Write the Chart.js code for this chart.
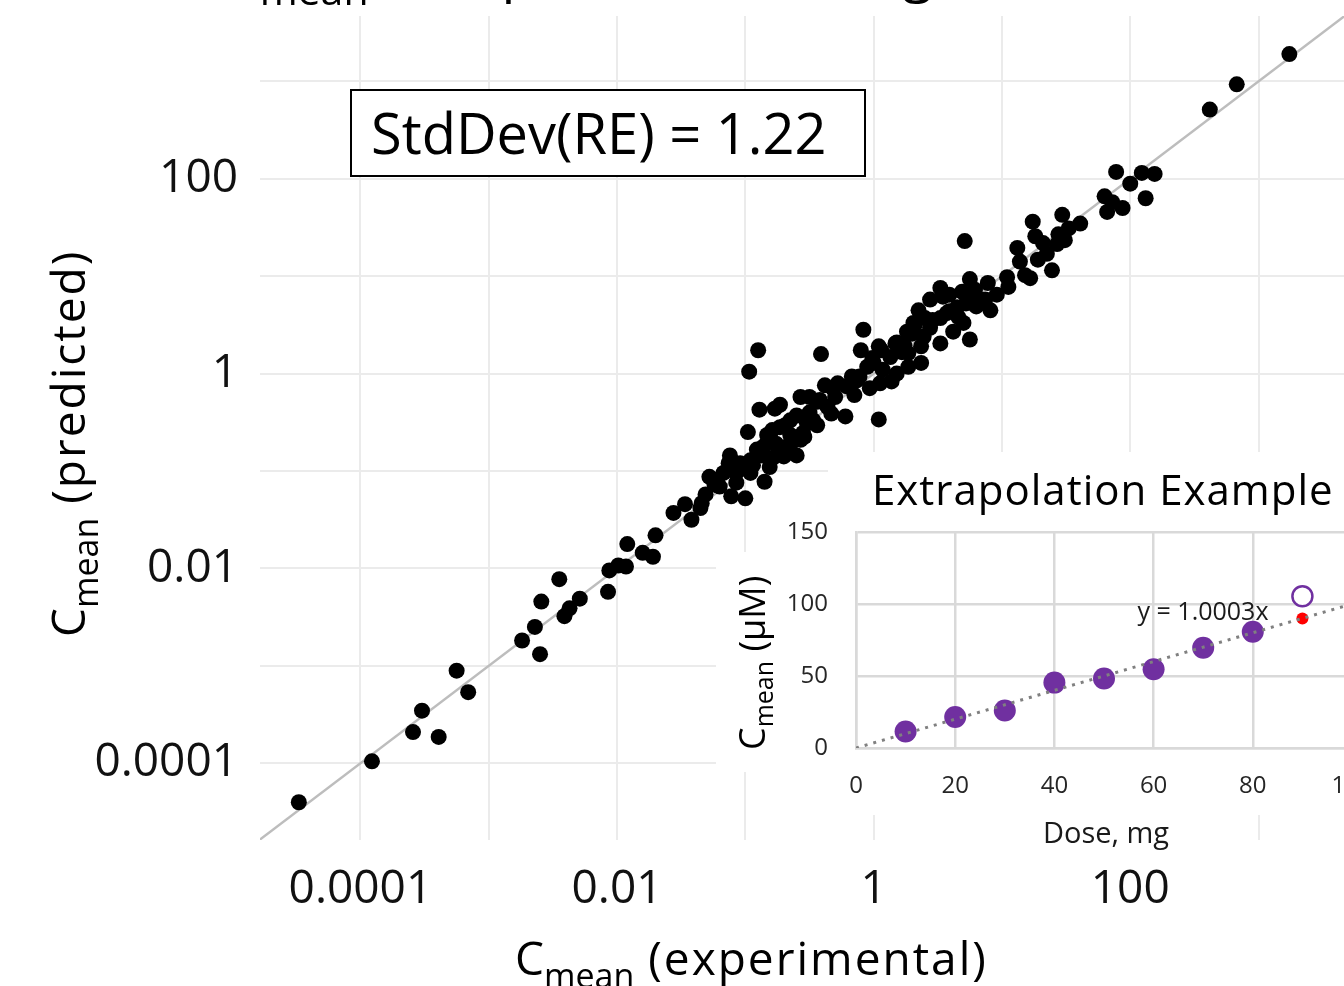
<!DOCTYPE html>
<html>
<head>
<meta charset="utf-8">
<script src="https://cdn.jsdelivr.net/npm/chart.js@4.4.1/dist/chart.umd.min.js"></script>
<style>
  html, body { margin: 0; padding: 0; background: #fff; overflow: hidden; }
  #wrap { position: relative; width: 1344px; height: 986px; overflow: hidden; }
  #main { position: absolute; left: 0; top: 0; }
  #inset { position: absolute; left: 716px; top: 452px; }
</style>
</head>
<body>
<div id="wrap">
  <canvas id="main" width="1344" height="986"></canvas>
  <canvas id="inset" width="680" height="400"></canvas>
</div>
<script>
// ---- main plot data (log10 of Cmean) ----
const log10Experimental = [
  -4.48, -3.91, -3.59, -3.39, -3.52, -3.16, -3.25, -2.74, -2.64, -2.60,
  -2.59, -2.45, -2.41, -2.37, -2.29, -2.07, -2.06, -1.99, -1.93, -1.92,
  -1.80, -1.72, -1.70, -1.56, -1.47, -1.42, -1.35, -1.31, -1.24, -0.90,
  -0.41, -0.97, -0.30, -0.38, -0.57, -0.44, -0.33, -0.73, -0.77, -0.89,
  -0.60, -0.52, -0.44, -0.69, -0.83, -0.98, -0.76, -0.65, -0.57, -0.60,
  -0.70, -0.86, -0.87, -1.12, -1.13, -1.02, -0.94, -1.07, -0.85, -1.28,
  -1.20, -1.11, -1.00, -1.34, -0.22, 0.04, 0.71, 0.96, 0.89, 0.75,
  0.52, 0.54, 0.69, 0.76, 0.72, 0.91, 0.80, 0.59, 0.66, 0.52,
  0.70, 0.62, 0.75, 0.52, 0.40, 0.32, 0.30, 0.44, 0.39, 0.37,
  -0.08, -0.10, 0.04, 0.17, 0.22, 0.13, 0.00, 0.07, 0.27, 0.37,
  0.18, 0.14, 0.05, -0.11, -0.03, -0.21, -0.15, 0.27, 3.24, 2.83,
  2.62, 1.89, 2.09, 2.19, 2.00, 1.80, 2.12, 1.86, 1.94, 1.82,
  1.47, 1.24, 1.61, 1.52, 1.44, 1.26, 1.32, 1.43, 1.12, 1.35,
  1.28, 1.39, 1.22, 1.04, 1.05, -0.32, -0.28, -0.17, -0.13, -0.05,
  -0.01, 0.06, 0.18, 0.26, 0.31, 0.46, 0.57, 0.65, -0.50, -0.42,
  -0.50, -0.65, -0.73, -0.79, -0.83, -0.91, -0.96, -1.04, -1.10, -1.17,
  -1.22, -1.07, -0.96, -0.78, -0.68, -0.55, -0.47, -0.36, 0.44, 0.59,
  0.79, 0.87, 1.14, 1.18, 1.49, -0.65, -0.54, -0.81, 0.35, 0.24
];
const log10Predicted = [
  -4.40, -3.98, -3.68, -3.73, -3.46, -3.27, -3.05, -2.74, -2.60, -2.88,
  -2.34, -2.11, -2.49, -2.41, -2.31, -2.24, -2.02, -1.97, -1.98, -1.75,
  -1.84, -1.88, -1.66, -1.43, -1.34, -1.50, -1.38, -1.24, -1.14, 0.24,
  0.20, 0.02, -0.24, -0.12, -0.24, -0.29, -0.41, -0.32, -0.36, -0.37,
  -0.43, -0.51, -0.53, -0.53, -0.63, -0.60, -0.72, -0.63, -0.68, -0.84,
  -0.85, -0.75, -0.84, -0.84, -0.92, -0.97, -0.94, -1.02, -1.11, -1.06,
  -1.16, -1.26, -1.28, -1.33, -0.44, -0.47, 1.36, 0.81, 0.93, 0.97,
  0.88, 0.79, 0.84, 0.79, 0.72, 0.65, 0.69, 0.64, 0.58, 0.57,
  0.52, 0.43, 0.35, 0.31, 0.57, 0.50, 0.41, 0.47, 0.38, 0.28,
  0.45, 0.24, 0.28, 0.31, 0.22, 0.17, 0.11, 0.04, 0.07, 0.11,
  0.00, -0.08, -0.10, -0.03, -0.15, -0.13, -0.22, 0.21, 3.28, 2.97,
  2.71, 2.07, 2.06, 2.05, 1.95, 1.82, 1.80, 1.76, 1.70, 1.66,
  1.63, 1.56, 1.54, 1.49, 1.43, 1.41, 1.34, 1.33, 1.29, 1.23,
  1.17, 1.06, 0.98, 0.99, 0.89, -0.15, -0.10, -0.03, -0.07, 0.07,
  0.16, 0.24, 0.32, 0.43, 0.52, 0.55, 0.62, 0.68, -0.24, -0.27,
  -0.40, -0.48, -0.55, -0.58, -0.71, -0.78, -0.89, -0.92, -0.99, -1.02,
  -1.09, -1.12, -1.02, -0.86, -0.75, -0.61, -0.48, -0.34, 0.76, 0.81,
  0.86, 0.76, 1.15, 1.01, 1.37, -0.73, -0.65, -0.96, 0.65, 0.29
];
const identityRange = [1e-5, 1e4];
const decadeTicks = [0.0001, 0.001, 0.01, 0.1, 1, 10, 100, 1000];
const labelledTicks = ['0.0001', '0.01', '1', '100'];
const xLimits = [1.65e-5, 4634];
const yLimits = [1.63e-5, 4688];
const stdDevText = 'StdDev(RE) = 1.22';

// ---- inset data ----
const doseMg = [10, 20, 30, 40, 50, 60, 70, 80];
const cmeanMeasured = [11.5, 21.5, 26, 45.4, 48.2, 54.7, 69.6, 80.7];
const extrapDose = [90];
const extrapMeasured = [105.4];
const extrapPredicted = [90];
const trendDose = [0, 100];
const trendCmean = [0, 100.03];
const trendLabel = 'y = 1.0003x';
const insetXTicks = [0, 20, 40, 60, 80, 100];
const insetYTicks = [0, 50, 100, 150];

const FONT = "'Open Sans', sans-serif";
Chart.defaults.font.family = FONT;

function drawRuns(ctx, x, y, runs, spacing) {
  runs.forEach(r => {
    ctx.font = r.size + 'px ' + FONT;
    if ('letterSpacing' in ctx) ctx.letterSpacing = (r.sp != null ? r.sp : spacing) + 'px';
    ctx.fillText(r.text, x, y + (r.dy || 0));
    x += ctx.measureText(r.text).width;
  });
}

// fixed axis size, no extra room for the end labels
function fixSize(key, size) {
  return s => {
    s[key] = size;
    s.paddingTop = s.paddingBottom = s.paddingLeft = s.paddingRight = 0;
  };
}

const mainText = {
  id: 'mainText',
  afterDraw(chart) {
    const ctx = chart.ctx;
    ctx.save();
    ctx.fillStyle = '#000';
    ctx.textAlign = 'left';
    ctx.textBaseline = 'alphabetic';
    // title, mostly above the picture edge
    drawRuns(ctx, 225, -9, [
      { text: 'C', size: 55 }, { text: 'mean', size: 41, dy: 14 },
      { text: ' Comparison: Training Set', size: 55 }
    ], 0);
    // x axis title
    drawRuns(ctx, 515, 975, [
      { text: 'C', size: 46, sp: 0 }, { text: 'mean', size: 34, dy: 13, sp: 0 },
      { text: ' (experimental)', size: 46 }
    ], 2);
    // y axis title
    ctx.save();
    ctx.translate(85, 637);
    ctx.rotate(-Math.PI / 2);
    drawRuns(ctx, 0, 0, [
      { text: 'C', size: 46, sp: 0 }, { text: 'mean', size: 34, dy: 13, sp: 0 },
      { text: ' (predicted)', size: 46 }
    ], 2);
    ctx.restore();
    // StdDev box
    ctx.fillStyle = '#fff';
    ctx.fillRect(351, 90, 514, 86);
    ctx.strokeStyle = '#000';
    ctx.lineWidth = 2;
    ctx.strokeRect(351, 90, 514, 86);
    ctx.fillStyle = '#000';
    drawRuns(ctx, 371, 154, [{ text: stdDevText, size: 56 }], 0);
    ctx.restore();
  }
};

function decadeAxis(limits, fit) {
  return {
    type: 'logarithmic',
    min: limits[0],
    max: limits[1],
    afterBuildTicks: s => { s.ticks = decadeTicks.map(v => ({ value: v })); },
    afterFit: fit,
    grid: { color: '#ebebeb', lineWidth: 2, drawTicks: false },
    border: { display: false },
    ticks: {
      autoSkip: false, maxRotation: 0, padding: 22, color: '#111',
      font: { family: FONT, size: 46 },
      callback: v => labelledTicks.includes(String(v)) ? String(v) : ''
    }
  };
}

new Chart(document.getElementById('main'), {
  type: 'scatter',
  data: {
    datasets: [
      {
        data: log10Experimental.map((lx, i) => ({ x: 10 ** lx, y: 10 ** log10Predicted[i] })),
        backgroundColor: '#000',
        pointRadius: 8,
        borderWidth: 0,
        order: 0
      },
      {
        type: 'line',
        data: identityRange.map(v => ({ x: v, y: v })),
        borderColor: '#bdbdbd',
        borderWidth: 2.5,
        pointRadius: 0,
        order: 1
      }
    ]
  },
  options: {
    responsive: false,
    animation: false,
    layout: { autoPadding: false, padding: { top: 16, right: 0, bottom: 0, left: 0 } },
    plugins: { legend: { display: false }, tooltip: { enabled: false } },
    scales: {
      x: decadeAxis(xLimits, fixSize('height', 146)),
      y: decadeAxis(yLimits, fixSize('width', 260))
    }
  },
  plugins: [mainText]
});

// ---- inset ----
const insetDecor = {
  id: 'insetDecor',
  beforeDraw(chart) {
    const ctx = chart.ctx;
    ctx.save();
    ctx.fillStyle = '#fff';
    [[112, 0, 568, 100], [0, 100, 680, 220], [36, 320, 644, 43], [164, 363, 370, 37]]
      .forEach(r => ctx.fillRect(r[0], r[1], r[2], r[3]));
    ctx.restore();
  },
  afterDraw(chart) {
    const ctx = chart.ctx;
    ctx.save();
    ctx.textBaseline = 'alphabetic';
    ctx.fillStyle = '#000';
    drawRuns(ctx, 156, 53, [{ text: 'Extrapolation Example', size: 42 }], 1);
    ctx.fillStyle = '#1a1a1a';
    ctx.textAlign = 'center';
    drawRuns(ctx, 390, 391, [{ text: 'Dose, mg', size: 29 }], 0);
    drawRuns(ctx, 487, 168, [{ text: trendLabel, size: 25 }], 0);
    ctx.textAlign = 'left';
    ctx.translate(49, 298);
    ctx.rotate(-Math.PI / 2);
    ctx.fillStyle = '#000';
    drawRuns(ctx, 0, 0, [
      { text: 'C', size: 36 }, { text: 'mean', size: 25, dy: 8 }, { text: ' (\u00b5M)', size: 36 }
    ], 0);
    ctx.restore();
  }
};

function insetAxis(min, max, tickList, fit, pad) {
  return {
    type: 'linear', min: min, max: max,
    afterBuildTicks: s => { s.ticks = tickList.map(v => ({ value: v })); },
    afterFit: fit,
    grid: { color: '#d9d9d9', lineWidth: 2.5, drawTicks: false },
    border: { color: '#d9d9d9', width: 2.5 },
    ticks: { autoSkip: false, maxRotation: 0, padding: pad, color: '#262626', font: { family: FONT, size: 24 } }
  };
}

new Chart(document.getElementById('inset'), {
  type: 'scatter',
  data: {
    datasets: [
      {
        type: 'line',
        data: trendDose.map((d, i) => ({ x: d, y: trendCmean[i] })),
        borderColor: '#808080', borderWidth: 3, borderDash: [3, 6],
        pointRadius: 0, order: 0
      },
      {
        data: doseMg.map((d, i) => ({ x: d, y: cmeanMeasured[i] })),
        backgroundColor: '#7030a0', pointRadius: 11, borderWidth: 0, order: 1
      },
      {
        data: extrapDose.map((d, i) => ({ x: d, y: extrapMeasured[i] })),
        backgroundColor: '#fff', borderColor: '#7030a0', pointRadius: 10, borderWidth: 2.5, order: 1
      },
      {
        data: extrapDose.map((d, i) => ({ x: d, y: extrapPredicted[i] })),
        backgroundColor: '#ff0000', pointRadius: 6, borderWidth: 0, order: 1
      }
    ]
  },
  options: {
    responsive: false,
    animation: false,
    layout: { padding: { top: 80, right: 44, bottom: 0, left: 0 } },
    plugins: { legend: { display: false }, tooltip: { enabled: false } },
    scales: {
      x: insetAxis(0, 100, insetXTicks, fixSize('height', 104), 24),
      y: insetAxis(0, 150, insetYTicks, fixSize('width', 140), 28)
    }
  },
  plugins: [insetDecor]
});
</script>
</body>
</html>
